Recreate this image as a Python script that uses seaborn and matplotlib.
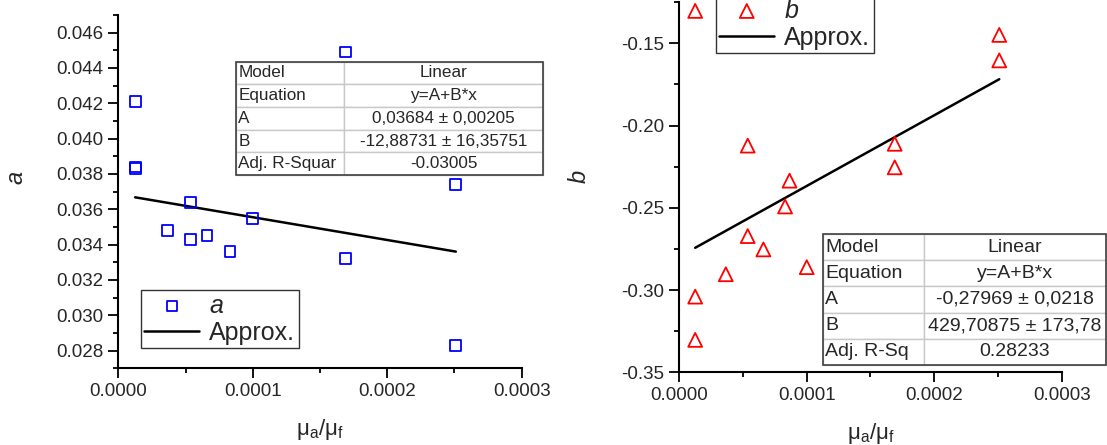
import matplotlib.pyplot as plt
import matplotlib.ticker as mticker
from matplotlib.patches import Rectangle
import numpy as np
import seaborn as sns

# Data
ratio_a = [1.25e-5, 1.25e-5, 1.25e-5, 3.65e-5, 5.37e-5, 5.37e-5, 6.6e-5,
           8.3e-5, 1.0e-4, 1.69e-4, 1.69e-4, 2.51e-4, 2.51e-4]
a_vals = [0.0421, 0.0384, 0.0383, 0.0348, 0.0364, 0.0343, 0.0345,
          0.0336, 0.0355, 0.0449, 0.0332, 0.0374, 0.0283]

ratio_b = [1.25e-5, 1.25e-5, 1.25e-5, 3.65e-5, 5.37e-5, 5.37e-5, 6.6e-5,
           8.3e-5, 8.65e-5, 1.0e-4, 1.69e-4, 1.69e-4, 2.51e-4, 2.51e-4]
b_vals = [-0.1303, -0.304, -0.3303, -0.2904, -0.2122, -0.2672, -0.2753,
          -0.2492, -0.2335, -0.2861, -0.2111, -0.2254, -0.1449, -0.1604]

# Linear fit parameters (as printed in the tables)
fit_a = (0.03684, -12.88731)
fit_b = (-0.27969, 429.70875)

table_a = [["Model", "Linear"],
           ["Equation", "y=A+B*x"],
           ["A", "0,03684 \u00b1 0,00205"],
           ["B", "-12,88731 \u00b1 16,35751"],
           ["Adj. R-Squar", "-0.03005"]]
table_b = [["Model", "Linear"],
           ["Equation", "y=A+B*x"],
           ["A", "-0,27969 \u00b1 0,0218"],
           ["B", "429,70875 \u00b1 173,78"],
           ["Adj. R-Sq", "0.28233"]]

sns.set_style("ticks")
plt.rcParams["font.family"] = ["Liberation Sans", "DejaVu Sans"]
plt.rcParams["mathtext.fontset"] = "custom"
plt.rcParams["mathtext.rm"] = "Liberation Sans"
plt.rcParams["mathtext.it"] = "Liberation Sans:italic"

fig = plt.figure(figsize=(11.07, 4.45), dpi=100)
ax1 = fig.add_axes([0.1069, 0.1724, 0.3644, 0.7939])
ax2 = fig.add_axes([0.6136, 0.1634, 0.3455, 0.8317])


def style_axis(ax, yfmt):
    for side in ["top", "right"]:
        ax.spines[side].set_visible(False)
    for side in ["left", "bottom"]:
        ax.spines[side].set_linewidth(1.5)
        ax.spines[side].set_color("black")
    ax.xaxis.set_major_locator(mticker.MultipleLocator(1e-4))
    ax.xaxis.set_minor_locator(mticker.MultipleLocator(5e-5))
    ax.xaxis.set_major_formatter(mticker.FormatStrFormatter("%.4f"))
    ax.yaxis.set_major_formatter(mticker.FormatStrFormatter(yfmt))
    ax.tick_params(which="major", length=7.2, width=1.3, labelsize=13.5,
                   color="black", direction="out")
    ax.tick_params(which="minor", length=3.6, width=1.3, color="black",
                   direction="out")
    ax.set_xlabel(r"μ$_\mathregular{a}$/μ$_\mathregular{f}$", fontsize=16,
                  labelpad=12)


def draw_table(ax, rows, bbox, col0, fontsize):
    tb = ax.table(cellText=rows, bbox=bbox, colWidths=[col0, 1 - col0],
                  cellLoc="center", zorder=5)
    tb.auto_set_font_size(False)
    tb.set_fontsize(fontsize)
    for (r, c), cell in tb.get_celld().items():
        cell.set_edgecolor("#c8c8c8")
        cell.set_linewidth(1.0)
        cell.set_facecolor("white")
        if c == 0:
            cell.get_text().set_ha("left")
            cell.PAD = 0.02
    tb.set_clip_on(False)
    ax.add_patch(Rectangle((bbox[0], bbox[1]), bbox[2], bbox[3],
                           transform=ax.transAxes, fill=False,
                           ec="#404040", lw=1.2, zorder=6, clip_on=False))


def draw_legend(ax, anchor):
    h, l = ax.get_legend_handles_labels()
    leg = ax.legend(h, l, loc="upper left", bbox_to_anchor=anchor,
                    fontsize=18, frameon=True, fancybox=False,
                    edgecolor="black", handlelength=2.2, handletextpad=0.4,
                    labelspacing=0.12, borderpad=0.15, borderaxespad=0,
                    scatterpoints=1)
    leg.get_frame().set_linewidth(1.0)
    leg.get_texts()[0].set_style("italic")


# Left panel: a
sns.scatterplot(x=ratio_a, y=a_vals, marker="s", s=60, ax=ax1, label="a",
                zorder=3)
pts = ax1.collections[-1]
pts.set_facecolor("none")
pts.set_edgecolor("#0000ff")
pts.set_linewidth(1.3)
xa = np.array([min(ratio_a), max(ratio_a)])
sns.lineplot(x=xa, y=fit_a[0] + fit_a[1] * xa, color="black", lw=1.8,
             ax=ax1, label="Approx.")
ax1.set_xlim(0, 3e-4)
ax1.set_ylim(0.027, 0.047)
ax1.yaxis.set_major_locator(mticker.MultipleLocator(0.002))
ax1.yaxis.set_minor_locator(mticker.MultipleLocator(0.001))
style_axis(ax1, "%.3f")
ax1.set_ylabel("a", fontsize=17, style="italic")
ax1.yaxis.set_label_coords(-0.226, 0.54)
draw_legend(ax1, (0.0553, 0.222))
draw_table(ax1, table_a, [0.2918, 0.547, 0.761, 0.321], 0.353, 12.3)

# Right panel: b
sns.scatterplot(x=ratio_b, y=b_vals, marker="^", s=100, ax=ax2, label="b",
                zorder=3)
pts = ax2.collections[-1]
pts.set_facecolor("none")
pts.set_edgecolor("#ff0000")
pts.set_linewidth(1.3)
xb = np.array([min(ratio_b), max(ratio_b)])
sns.lineplot(x=xb, y=fit_b[0] + fit_b[1] * xb, color="black", lw=1.8,
             ax=ax2, label="Approx.")
ax2.set_xlim(0, 3e-4)
ax2.set_ylim(-0.35, -0.125)
ax2.yaxis.set_major_locator(mticker.MultipleLocator(0.05))
ax2.yaxis.set_minor_locator(mticker.MultipleLocator(0.025))
style_axis(ax2, "%.2f")
ax2.set_ylabel("b", fontsize=17, style="italic")
ax2.yaxis.set_label_coords(-0.231, 0.53)
draw_legend(ax2, (0.0948, 1.02))
draw_table(ax2, table_b, [0.3766, 0.0197, 0.739, 0.354], 0.356, 14)

fig.savefig("out.png", dpi=100)
